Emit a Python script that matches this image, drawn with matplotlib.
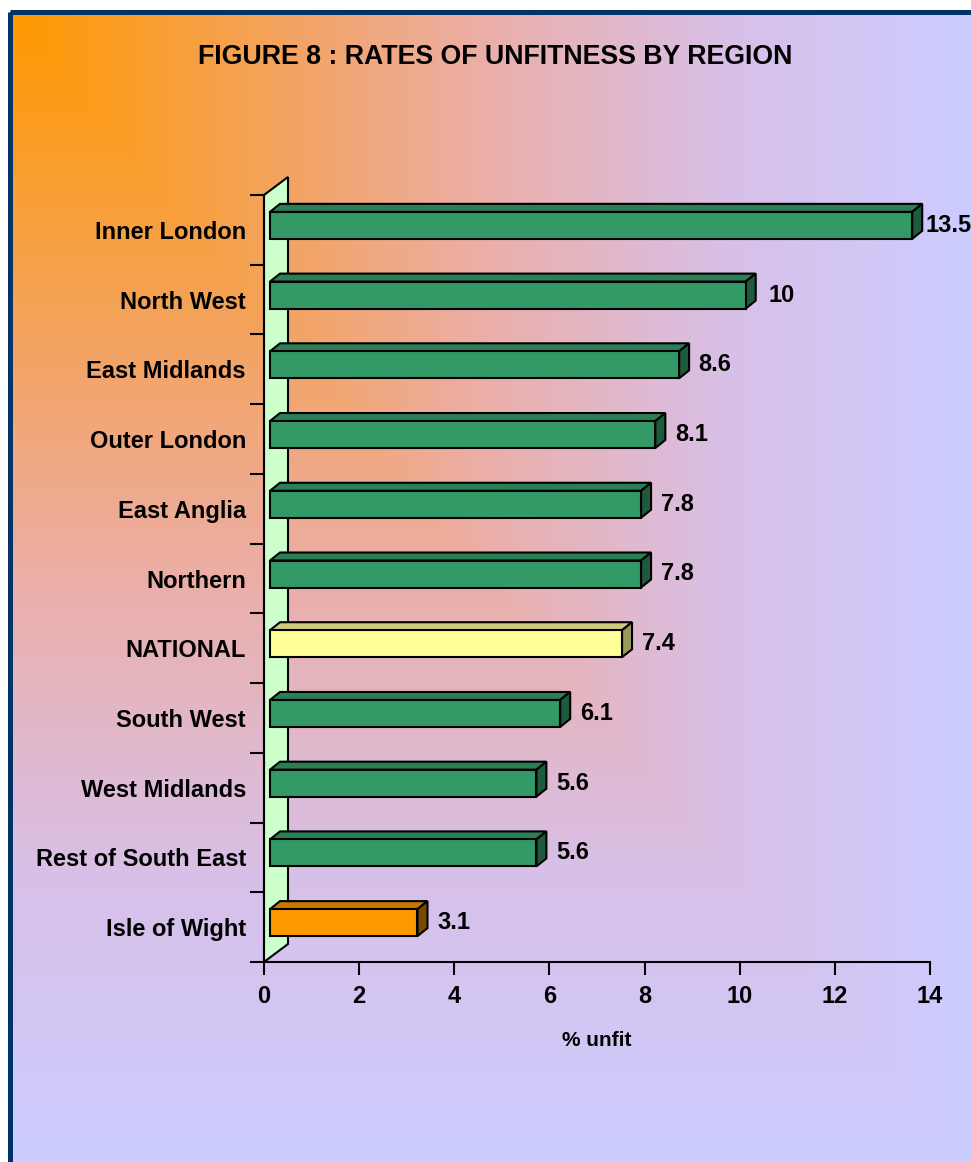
import numpy as np
import matplotlib
matplotlib.use("Agg")
import matplotlib.pyplot as plt
from matplotlib.patches import Polygon, Rectangle
from matplotlib.colors import LinearSegmentedColormap

plt.rcParams["font.family"] = ["Liberation Sans", "DejaVu Sans"]
plt.rcParams["font.weight"] = "bold"

# Datos
regions = ["Inner London", "North West", "East Midlands", "Outer London",
           "East Anglia", "Northern", "NATIONAL", "South West",
           "West Midlands", "Rest of South East", "Isle of Wight"]
unfit = [13.5, 10, 8.6, 8.1, 7.8, 7.8, 7.4, 6.1, 5.6, 5.6, 3.1]
x_ticks = [0, 2, 4, 6, 8, 10, 12, 14]

# colores: (frente, arriba, lado)
green = ("#339966", "#2B7F56", "#1E5A3C")
yellow = ("#FFFF99", "#CCCC7A", "#99995C")
orange = ("#FF9900", "#C87800", "#7A4A00")
special = {"NATIONAL": yellow, "Isle of Wight": orange}

W, H = 971, 1162
fig = plt.figure(figsize=(W / 100, H / 100), dpi=100)

# Fondo con degradado desde la esquina
bg = fig.add_axes([0, 0, 1, 1])
bg.set_xlim(0, W)
bg.set_ylim(H, 0)
bg.axis("off")
yy, xx = np.mgrid[0:H - 14, 0:W - 12]
t = np.maximum(xx / (W - 12), yy / (H - 14))
cmap = LinearSegmentedColormap.from_list(
    "bg", [(0, "#FF9900"), (0.3, "#F3A466"), (0.5, "#EBAFAA"),
           (0.75, "#D8C0E8"), (1, "#CCCCFF")])
bg.imshow(t, cmap=cmap, extent=(12, W, H, 14), aspect="auto",
          interpolation="bilinear")
bg.add_patch(Rectangle((9.5, 12), W, H, fill=False, ec="#003366", lw=3.6))

# Ejes principales
n = len(regions)
ax = fig.add_axes([264 / W, 1 - 962 / H, 666 / W, 767 / H])
ax.set_xlim(0, 14)
ax.set_ylim(n - 0.5, -0.5)
ax.patch.set_visible(False)

ux = 666 / 14   # pixeles por unidad x
uy = 767 / n    # pixeles por categoria

# pared 3D
wx, wy = 24 / ux, 18 / uy
ax.add_patch(Polygon([(0, n - 0.5), (0, -0.5), (wx, -0.5 - wy), (wx, n - 0.5 - wy)],
                     closed=True, fc="#CCFFCC", ec="black", lw=1.5,
                     clip_on=False, zorder=1))

# barras 3D
fx, fy = 6 / ux, 4.5 / uy
dx, dy = 10 / ux, 8 / uy
h = 27 / uy
for i, (name, v) in enumerate(zip(regions, unfit)):
    c_front, c_top, c_side = special.get(name, green)
    yc = i - fy
    x0, x1 = fx, v + fx
    yt, yb = yc - h / 2, yc + h / 2
    ax.add_patch(Polygon([(x0, yt), (x1, yt), (x1 + dx, yt - dy), (x0 + dx, yt - dy)],
                         fc=c_top, ec="black", lw=1.5, zorder=3, clip_on=False))
    ax.add_patch(Polygon([(x1, yt), (x1, yb), (x1 + dx, yb - dy), (x1 + dx, yt - dy)],
                         fc=c_side, ec="black", lw=1.5, zorder=3, clip_on=False))
    ax.add_patch(Rectangle((x0, yt), v, h, fc=c_front, ec="black", lw=1.5,
                           zorder=4, clip_on=False))
    ax.text(x1 + 36 / ux, yc, f"{v:g}", ha="center", va="center",
            fontsize=17, fontweight="bold", zorder=5, clip_on=False)

# ejes y marcas
for s in ["top", "right"]:
    ax.spines[s].set_visible(False)
for s in ["left", "bottom"]:
    ax.spines[s].set_linewidth(1.5)
    ax.spines[s].set_zorder(2)

ax.set_xticks(x_ticks)
ax.set_xticklabels([str(v) for v in x_ticks], fontsize=17, fontweight="bold")
ax.tick_params(axis="x", length=9.4, width=1.5, pad=7)

ax.set_yticks(range(n))
ax.set_yticklabels(regions, fontsize=17, fontweight="bold")
ax.set_yticks(np.arange(-0.5, n, 1), minor=True)
ax.tick_params(axis="y", which="major", length=0, pad=13)
ax.tick_params(axis="y", which="minor", length=10, width=1.5)

fig.text(495 / W, 1 - 57 / H, "FIGURE 8 : RATES OF UNFITNESS BY REGION",
         ha="center", va="center", fontsize=19.3, fontweight="bold")
fig.text(597 / W, 1 - 1040 / H, "% unfit", ha="center", va="center",
         fontsize=15, fontweight="bold")

fig.savefig("out.png", dpi=100)
